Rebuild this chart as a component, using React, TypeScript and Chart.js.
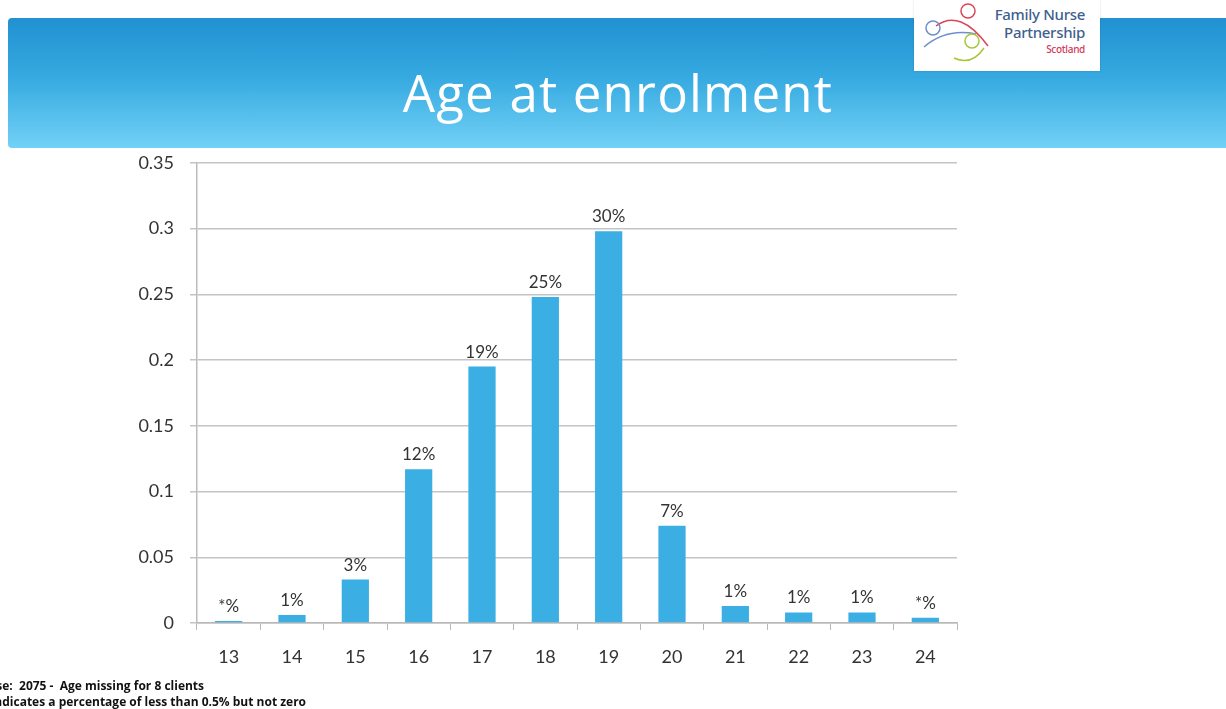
import React, { useEffect, useRef } from "react";
import { Chart, registerables } from "chart.js";

Chart.register(...registerables);

const ages = ["13", "14", "15", "16", "17", "18", "19", "20", "21", "22", "23", "24"];
const shares = [0.0015, 0.006, 0.033, 0.117, 0.195, 0.248, 0.298, 0.074, 0.013, 0.008, 0.008, 0.004];
const barLabels = ["*%", "1%", "3%", "12%", "19%", "25%", "30%", "7%", "1%", "1%", "1%", "*%"];
const yMax = 0.35;
const yStep = 0.05;

const TEXT_FONT = "Lato, 'Open Sans', sans-serif";

const labelPlugin = {
  id: "barLabels",
  afterDatasetsDraw(chart: any) {
    const ctx = chart.ctx;
    const meta = chart.getDatasetMeta(0);
    ctx.save();
    ctx.fillStyle = "#333333";
    ctx.font = `17px ${TEXT_FONT}`;
    ctx.textAlign = "center";
    ctx.textBaseline = "bottom";
    meta.data.forEach((bar: any, i: number) => {
      ctx.fillText(barLabels[i], bar.x, bar.y - 6);
    });
    ctx.restore();
  },
};

function BarChart() {
  const ref = useRef<HTMLCanvasElement | null>(null);
  useEffect(() => {
    if (!ref.current) return;
    const chart = new Chart(ref.current, {
      type: "bar",
      data: {
        labels: ages,
        datasets: [
          {
            data: shares,
            backgroundColor: "#3bafe3",
            barPercentage: 0.86,
            categoryPercentage: 0.5,
          },
        ],
      },
      options: {
        animation: false,
        responsive: false,
        maintainAspectRatio: false,
        layout: { padding: { top: 10, right: 43, left: 0, bottom: 0 } },
        plugins: { legend: { display: false }, tooltip: { enabled: false } },
        scales: {
          x: {
            offset: true,
            grid: {
              offset: true,
              drawOnChartArea: false,
              drawTicks: true,
              tickLength: 7,
              color: "#b8b8b8",
            },
            border: { color: "#b8b8b8", width: 1.5 },
            ticks: {
              color: "#333333",
              font: { family: TEXT_FONT, size: 18 },
              padding: 16,
              maxRotation: 0,
            },
            afterFit: (scale: any) => {
              scale.height = 57;
            },
          },
          y: {
            min: 0,
            max: yMax,
            ticks: {
              stepSize: yStep,
              color: "#333333",
              font: { family: TEXT_FONT, size: 18 },
              padding: 16,
              callback: (v: any) => String(Number(Number(v).toFixed(2))),
            },
            grid: { color: "#c4c4c4", lineWidth: 1.5, tickLength: 7 },
            border: { color: "#bbbbbb", width: 1.5 },
            afterFit: (scale: any) => {
              scale.width = 97;
            },
          },
        },
      },
      plugins: [labelPlugin],
    });
    return () => chart.destroy();
  }, []);
  return (
    <canvas
      ref={ref}
      width={900}
      height={544}
      style={{ position: "absolute", left: 100, top: 136, width: 900, height: 544 }}
    />
  );
}

function Logo() {
  return (
    <div
      style={{
        position: "absolute",
        left: 914,
        top: 0,
        width: 186,
        height: 71,
        background: "#ffffff",
        boxShadow: "0 0 2px rgba(0,0,0,0.15)",
      }}
    >
      <svg width={80} height={71} style={{ position: "absolute", left: 0, top: 0 }}>
        <circle cx={54} cy={11} r={7} fill="none" stroke="#d9475c" strokeWidth={1.5} />
        <path d="M22 26 Q46 8 74 46" fill="none" stroke="#d9475c" strokeWidth={1.5} />
        <circle cx={19} cy={28} r={7} fill="none" stroke="#6e8fc9" strokeWidth={1.5} />
        <path d="M10 47 Q32 28 62 34" fill="none" stroke="#6e8fc9" strokeWidth={1.5} />
        <circle cx={58} cy={41} r={7} fill="none" stroke="#a8c63a" strokeWidth={1.5} />
        <path d="M40 58 Q58 66 70 48" fill="none" stroke="#a8c63a" strokeWidth={1.5} />
      </svg>
      <div
        style={{
          position: "absolute",
          left: 60,
          top: 5,
          width: 111,
          textAlign: "right",
          fontFamily: "'Noto Sans', sans-serif",
          color: "#3f5f8f",
          fontSize: 15,
          lineHeight: "18px",
          fontWeight: 500,
          letterSpacing: -0.3,
        }}
      >
        <div>Family Nurse</div>
        <div>Partnership</div>
        <div style={{ color: "#d23a58", fontSize: 10, lineHeight: "16px", letterSpacing: -0.3 }}>Scotland</div>
      </div>
    </div>
  );
}

export default function App() {
  return (
    <div
      style={{
        position: "fixed",
        left: 0,
        top: 0,
        width: 1226,
        height: 709,
        overflow: "hidden",
        background: "#ffffff",
      }}
    >
      <div
        style={{
          position: "absolute",
          left: 8,
          top: 18,
          width: 1230,
          height: 130,
          borderRadius: 4,
          background: "linear-gradient(to bottom, #2191d1 0%, #35a9e0 45%, #72d1f6 100%)",
        }}
      />
      <div
        style={{
          position: "absolute",
          left: 0,
          top: 62,
          width: 1236,
          textAlign: "center",
          color: "#ffffff",
          fontFamily: "'Open Sans', sans-serif",
          fontSize: 51,
          letterSpacing: 1.2,
          lineHeight: "60px",
        }}
      >
        Age at enrolment
      </div>
      <Logo />
      <BarChart />
      <div
        style={{
          position: "absolute",
          left: -19,
          top: 678,
          fontFamily: "'Open Sans', sans-serif",
          fontWeight: 700,
          fontSize: 12,
          lineHeight: "16px",
          color: "#111111",
          whiteSpace: "pre",
        }}
      >
        <div>{"Base:  2075 -  Age missing for 8 clients"}</div>
        <div>{"* indicates a percentage of less than 0.5% but not zero"}</div>
      </div>
    </div>
  );
}
